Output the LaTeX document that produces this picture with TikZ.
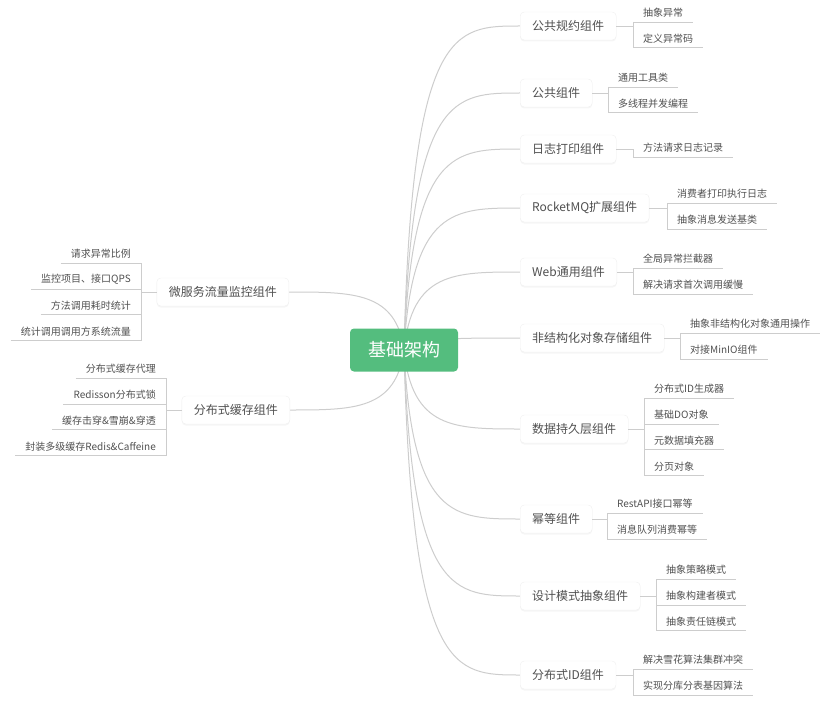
\documentclass[tikz,border=0pt]{standalone}
\usepackage{fontspec}
\setmainfont{Noto Sans CJK SC}
\usetikzlibrary{positioning, calc, backgrounds, shadows}
\definecolor{rootgreen}{RGB}{84,189,126}
\definecolor{linegray}{RGB}{205,205,205}
\definecolor{textgray}{RGB}{80,80,80}
\tikzset{
    root/.style={fill=rootgreen, text=white, rounded corners=4pt, font=\fontsize{18}{20}\selectfont, minimum width=108pt, minimum height=43pt},
    topic/.style={draw=black!6, fill=white, rounded corners=4pt, text=textgray, font=\fontsize{12}{14}\selectfont, inner xsep=12pt, minimum height=28pt, drop shadow={opacity=0.08, shadow xshift=0pt, shadow yshift=-1.5pt}},
    leaf/.style={text=textgray, font=\fontsize{10}{12}\selectfont, inner xsep=10pt, inner ysep=0pt, minimum height=18pt, append after command={(\tikzlastnode.south west) edge[twig] (\tikzlastnode.south east)}},
    twig/.style={draw=linegray, line width=0.8pt},
    branchr/.style={draw=linegray, line width=1pt, to path={.. controls ($(\tikztostart |- \tikztotarget)+(8pt,0)$) and ($(\tikztostart |- \tikztotarget)+(50pt,0)$) .. (\tikztotarget)}},
    branchl/.style={draw=linegray, line width=1pt, to path={.. controls ($(\tikztostart |- \tikztotarget)+(-8pt,0)$) and ($(\tikztostart |- \tikztotarget)+(-50pt,0)$) .. (\tikztotarget)}}
}

\begin{document}
\begin{tikzpicture}[x=1pt, y=-1pt, node distance=7.5pt and 0pt]
        \useasboundingbox (0,0) rectangle (839,717);
        \node [root] (root) at (404,350) {基础架构};

        \node [topic, anchor=west] (norm) at (520,26) {公共规约组件};
        \node [topic, anchor=west] (common) at (520,93) {公共组件};
        \node [topic, anchor=west] (log) at (520,149) {日志打印组件};
        \node [topic, anchor=west] (mq) at (520,208) {RocketMQ扩展组件};
        \node [topic, anchor=west] (web) at (520,272) {Web通用组件};
        \node [topic, anchor=west] (oss) at (520,338) {非结构化对象存储组件};
        \node [topic, anchor=west] (dao) at (520,429) {数据持久层组件};
        \node [topic, anchor=west] (idem) at (520,519) {幂等组件};
        \node [topic, anchor=west] (pattern) at (520,596) {设计模式抽象组件};
        \node [topic, anchor=west] (idgen) at (520,675) {分布式ID组件};
        \node [topic, anchor=east] (monitor) at (289,292) {微服务流量监控组件};
        \node [topic, anchor=east] (cache) at (290,410) {分布式缓存组件};

        \node [leaf, anchor=south west] (norm1) at (633,22) {抽象异常};
        \node [leaf, below right=of norm1.south west] (norm2) {定义异常码};
        \node [leaf, anchor=south west] (common1) at (608,87) {通用工具类};
        \node [leaf, below right=of common1.south west] (common2) {多线程并发编程};
        \node [leaf, anchor=south west] (log1) at (633,157) {方法请求日志记录};
        \node [leaf, anchor=south west] (mq1) at (667,203) {消费者打印执行日志};
        \node [leaf, below right=of mq1.south west] (mq2) {抽象消息发送基类};
        \node [leaf, anchor=south west] (web1) at (633,268) {全局异常拦截器};
        \node [leaf, below right=of web1.south west] (web2) {解决请求首次调用缓慢};
        \node [leaf, anchor=south west] (oss1) at (680,333) {抽象非结构化对象通用操作};
        \node [leaf, below right=of oss1.south west] (oss2) {对接MinIO组件};
        \node [leaf, anchor=south west] (dao1) at (644,398) {分布式ID生成器};
        \node [leaf, below right=of dao1.south west] (dao2) {基础DO对象};
        \node [leaf, below right=of dao2.south west] (dao3) {元数据填充器};
        \node [leaf, below right=of dao3.south west] (dao4) {分页对象};
        \node [leaf, anchor=south west] (idem1) at (607,513) {RestAPI接口幂等};
        \node [leaf, below right=of idem1.south west] (idem2) {消息队列消费幂等};
        \node [leaf, anchor=south west] (pattern1) at (656,579) {抽象策略模式};
        \node [leaf, below right=of pattern1.south west] (pattern2) {抽象构建者模式};
        \node [leaf, below right=of pattern2.south west] (pattern3) {抽象责任链模式};
        \node [leaf, anchor=south west] (idgen1) at (633,669) {解决雪花算法集群冲突};
        \node [leaf, below right=of idgen1.south west] (idgen2) {实现分库分表基因算法};

        \node [leaf, anchor=south east] (monitor1) at (141,263) {请求异常比例};
        \node [leaf, below left=of monitor1.south east] (monitor2) {监控项目、接口QPS};
        \node [leaf, below left=of monitor2.south east] (monitor3) {方法调用耗时统计};
        \node [leaf, below left=of monitor3.south east] (monitor4) {统计调用调用方系统流量};
        \node [leaf, anchor=south east] (cache1) at (166,378) {分布式缓存代理};
        \node [leaf, below left=of cache1.south east] (cache2) {Redisson分布式锁};
        \node [leaf, below left=of cache2.south east] (cache3) {缓存击穿\&雪崩\&穿透};
        \node [leaf, below left=of cache3.south east] (cache4) {封装多级缓存Redis\&Caffeine};

        \begin{scope}[on background layer]
            \draw [branchr] (root.center) to (norm.west);
            \draw [branchr] (root.center) to (common.west);
            \draw [branchr] (root.center) to (log.west);
            \draw [branchr] (root.center) to (mq.west);
            \draw [branchr] (root.center) to (web.west);
            \draw [branchr] (root.center) to (oss.west);
            \draw [branchr] (root.center) to (dao.west);
            \draw [branchr] (root.center) to (idem.west);
            \draw [branchr] (root.center) to (pattern.west);
            \draw [branchr] (root.center) to (idgen.west);
            \draw [branchl] (root.center) to (monitor.east);
            \draw [branchl] (root.center) to (cache.east);
        \end{scope}

        \draw [twig] (norm.east) -- (norm.east -| norm1.south west);
        \draw [twig] (norm1.south west) -- (norm2.south west);
        \draw [twig] (common.east) -- (common.east -| common1.south west);
        \draw [twig] (common1.south west) -- (common2.south west);
        \draw [twig] (log.east) -| (log1.south west);
        \draw [twig] (mq.east) -- (mq.east -| mq1.south west);
        \draw [twig] (mq1.south west) -- (mq2.south west);
        \draw [twig] (web.east) -- (web.east -| web1.south west);
        \draw [twig] (web1.south west) -- (web2.south west);
        \draw [twig] (oss.east) -- (oss.east -| oss1.south west);
        \draw [twig] (oss1.south west) -- (oss2.south west);
        \draw [twig] (dao.east) -- (dao.east -| dao1.south west);
        \draw [twig] (dao1.south west) -- (dao4.south west);
        \draw [twig] (idem.east) -- (idem.east -| idem1.south west);
        \draw [twig] (idem1.south west) -- (idem2.south west);
        \draw [twig] (pattern.east) -- (pattern.east -| pattern1.south west);
        \draw [twig] (pattern1.south west) -- (pattern3.south west);
        \draw [twig] (idgen.east) -- (idgen.east -| idgen1.south west);
        \draw [twig] (idgen1.south west) -- (idgen2.south west);
        \draw [twig] (monitor.west) -- (monitor.west -| monitor1.south east);
        \draw [twig] (monitor1.south east) -- (monitor4.south east);
        \draw [twig] (cache.west) -- (cache.west -| cache1.south east);
        \draw [twig] (cache1.south east) -- (cache4.south east);
    \end{tikzpicture}
\end{document}
